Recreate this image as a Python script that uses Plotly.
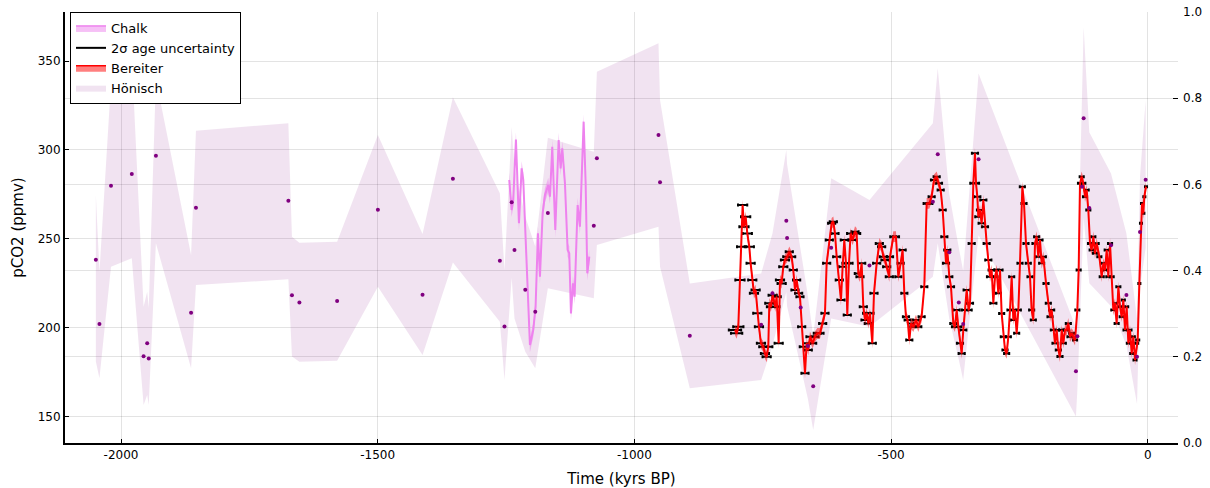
import plotly.graph_objects as go

# ---------------- data ----------------
honisch_age = [-2049, -2042, -2019.5, -1979, -1956, -1949, -1946, -1932, -1863.5, -1854,
               -1674, -1667, -1652.5, -1579, -1499.6, -1412.6, -1353.5, -1262, -1253, -1239,
               -1233.5, -1212.5, -1193, -1168.5, -1079, -1073, -953, -950, -892, -753,
               -731, -704, -702.5, -676, -662, -651.6, -616.6, -542, -418.5, -409,
               -386.5, -368, -359.5, -329.5, -139.8, -137, -128, -124.8, -113.8, -71.5,
               -41.5, -20.8, -15, -4]
honisch_co2 = [238.2, 202.0, 279.8, 286.4, 183.9, 191.2, 182.7, 296.7, 208.4, 267.5,
               271.4, 218.2, 214.2, 215.0, 266.4, 218.5, 283.8, 237.6, 200.7, 270.5,
               243.7, 221.3, 209.0, 264.5, 257.4, 295.3, 308.4, 281.8, 195.5, 201.7,
               219.3, 260.2, 250.4, 211.4, 189.7, 167.0, 245.0, 234.9, 270.9, 297.5,
               242.4, 214.2, 202.0, 294.7, 175.4, 195.1, 279.3, 317.8, 267.3, 246.3,
               218.4, 183.6, 253.8, 283.2]
honisch_lo = [181.0, 171.5, 234.3, 239.0, 156.5, 162.1, 156.5, 247.5, 177.1, 224.0,
              227.2, 183.7, 180.8, 181.4, 223.0, 184.6, 236.7, 203.3, 170.5, 228.0,
              205.2, 186.5, 177.1, 222.1, 216.5, 246.5, 256.8, 234.3, 165.9, 170.5,
              190.0, 220.0, 212.0, 178.0, 160.0, 142.4, 205.2, 200.5, 228.7, 247.5,
              205.0, 182.0, 170.5, 252.0, 150.0, 165.0, 238.0, 262.0, 225.0, 212.0,
              190.0, 157.0, 222.0, 245.0]
honisch_hi = [274.6, 231.5, 338.0, 352.0, 211.8, 220.2, 211.2, 340.0, 240.9, 310.8,
              315.0, 251.2, 247.8, 248.4, 308.4, 252.7, 329.6, 275.6, 232.4, 313.0,
              290.0, 262.4, 245.6, 306.9, 299.0, 344.0, 360.0, 328.1, 224.9, 230.5,
              253.0, 300.0, 292.0, 245.0, 218.0, 195.0, 284.0, 271.8, 315.0, 346.0,
              275.0, 245.0, 232.0, 343.0, 200.0, 222.0, 328.0, 369.0, 310.0, 286.8,
              253.0, 205.0, 285.0, 328.0]

chalk_age = [-1243.7, -1239.1, -1235.9, -1230.7, -1224.8, -1219.6, -1216.4, -1209.9, -1203.4, -1196.9,
             -1192.4, -1187.8, -1183.9, -1178.7, -1174.2, -1167.7, -1164.4, -1159.9, -1154.0, -1147.5,
             -1143.6, -1140.4, -1135.2, -1130.0, -1126.8, -1123.5, -1119.6, -1116.4, -1110.5, -1106.0,
             -1098.8, -1094.9, -1091.7, -1087.8]
chalk_co2 = [283.1, 266.2, 271.8, 305.9, 258.7, 289.6, 283.1, 238.1, 190.2, 198.7,
             211.8, 253.1, 228.7, 264.3, 274.6, 280.2, 273.7, 301.8, 254.9, 305.6,
             289.6, 300.9, 281.2, 243.7, 241.8, 208.0, 224.9, 217.4, 269.0, 256.8,
             315.9, 281.2, 230.6, 239.9]
chalk_sigma = 4.0

bereiter_age = [
    -804.0, -800.8, -797.5, -794.3, -791.0, -789.1, -786.5, -783.2, -780.0, -776.1,
    -773.5, -770.3, -767.0, -763.8, -760.5, -757.3, -753.4, -748.8, -745.6, -742.3,
    -739.1, -737.1, -733.9, -730.6, -725.4, -722.8, -718.9, -716.3, -713.1, -709.9,
    -706.6, -702.1, -698.2, -693.6, -690.4, -687.1, -683.9, -680.0, -677.4, -674.1,
    -670.9, -667.6, -664.4, -661.2, -657.9, -652.7, -648.2, -643.6, -638.4, -633.2,
    -628.7, -625.4, -620.2, -615.7, -612.4, -609.2, -605.9, -600.8, -597.5, -594.3,
    -591.0, -587.8, -585.2, -581.9, -578.7, -574.8, -570.2, -567.0, -563.7, -560.5,
    -557.2, -554.0, -550.7, -547.5, -544.3, -541.0, -536.5, -533.2, -528.0, -522.8,
    -518.3, -515.0, -511.8, -508.5, -503.3,
    -502.0, -495.6, -490.4, -485.8, -481.3, -477.4, -474.1, -470.9, -467.6, -464.4,
    -461.1, -456.6, -451.4, -446.9, -440.4, -435.2, -430.6, -425.4, -420.9, -416.3,
    -411.1, -406.6, -403.3, -399.4, -396.2, -392.9, -390.4, -386.5, -383.2, -378.7,
    -375.4, -372.2, -368.9, -365.7, -362.4, -359.2, -355.9, -352.7, -348.8, -346.2,
    -342.9, -339.7, -336.5, -334.5, -331.9, -330.0, -326.7, -323.5, -320.2, -317.0,
    -313.7, -310.5, -307.2, -304.0, -300.7, -297.5, -294.2, -291.0, -287.7, -284.5,
    -281.3, -278.0, -274.8, -271.5, -268.3, -265.0, -261.8, -258.5, -255.3, -252.0,
    -248.8, -244.2, -241.0, -237.1, -232.6, -229.3, -226.1, -222.8, -219.6, -216.4,
    -213.1, -209.8, -206.6, -203.3, -198.1, -193.6, -190.3, -187.1, -183.8, -180.6,
    -177.3, -174.1, -170.9, -167.6, -164.4, -161.1, -157.9, -154.6, -151.4, -148.1,
    -141.6, -137.1, -134.5, -131.9, -128.6, -125.4, -122.1, -118.9, -115.7, -112.4,
    -109.2, -105.9, -102.7, -99.4, -94.2, -89.6, -86.4, -83.2, -79.9, -76.7,
    -73.4, -70.2, -67.0, -63.7, -60.5, -57.2, -54.0, -50.7, -47.5, -44.2,
    -41.0, -37.7, -34.5, -31.2, -28.0, -24.7, -21.5, -19.5, -16.3, -13.1,
    -11.1, -8.5, -6.6, -3.3]
bereiter_co2 = [
    198.7, 196.8, 200.5, 226.8, 245.5, 269.0, 256.8, 262.4, 253.0, 245.5,
    236.2, 226.8, 219.3, 221.2, 208.1, 200.5, 191.2, 189.3, 185.5, 183.6,
    189.3, 213.7, 211.8, 218.3, 211.8, 217.4, 191.2, 226.8, 224.9, 234.3,
    238.1, 239.9, 242.7, 239.9, 232.4, 221.2, 226.8, 219.3, 217.4, 200.5,
    189.3, 174.3, 191.2, 187.4, 194.9, 191.2, 194.9, 196.8, 196.8, 202.4,
    208.1, 236.2, 249.3, 258.7, 259.6, 253.0, 239.9, 226.8, 215.5, 234.3,
    249.3, 236.2, 207.1, 236.2, 253.0, 249.3, 254.0, 253.0, 230.5, 228.7,
    236.2, 211.8, 204.3, 208.1, 202.4, 208.1, 191.2, 219.3, 236.2, 247.4,
    245.5, 239.9, 238.1, 234.3, 228.7,
    239.9, 251.2, 251.2, 228.7, 236.2, 243.7, 219.3, 206.2, 204.3, 193.0,
    202.4, 200.5, 204.3, 200.5, 206.2, 223.0, 269.9, 269.9, 273.7, 283.1,
    284.9, 281.2, 277.4, 266.2, 251.2, 236.2, 243.7, 228.7, 223.0, 202.4,
    200.5, 209.9, 200.5, 191.2, 185.5, 198.7, 209.9, 221.2, 209.9, 213.7,
    247.4, 281.2, 298.1, 281.2, 273.7, 262.4, 266.2, 258.7, 271.8, 256.8,
    247.4, 238.1, 228.7, 232.4, 213.7, 228.7, 232.4, 219.3, 232.4, 208.0,
    194.9, 187.4, 185.5, 194.9, 209.9, 228.7, 204.3, 209.9, 196.8, 209.9,
    236.2, 279.3, 269.9, 247.4, 236.2, 228.7, 209.9, 204.3, 247.4, 251.2,
    239.9, 249.3, 236.2, 239.9, 224.9, 213.7, 206.2, 209.9, 198.7, 191.2,
    198.7, 187.4, 183.7, 198.7, 191.2, 198.7, 198.7, 202.4, 194.9, 196.8,
    193.0, 209.9, 232.4, 281.2, 284.9, 281.2, 273.7, 277.4, 266.2, 247.4,
    243.7, 251.2, 241.8, 247.4, 239.9, 228.7, 236.2, 232.4, 243.7, 228.7,
    247.4, 228.7, 209.9, 213.7, 202.4, 223.0, 211.8, 206.2, 215.5, 198.7,
    211.8, 191.2, 198.7, 185.5, 194.9, 181.8, 191.2, 193.0, 224.9, 258.7,
    269.9, 264.3, 273.7, 279.3]
bereiter_age_err = [
    12, 11, 10, 9, 9, 9, 9, 9, 9, 9,
    8, 8, 8, 8, 8, 8, 8, 8, 8, 8,
    8, 8, 8, 8, 8, 8, 8, 8, 8, 8,
    8, 8, 7, 7, 7, 7, 7, 7, 7, 7,
    7, 7, 7, 7, 7, 7, 7, 7, 7, 7,
    7, 7, 7, 7, 7, 7, 7, 7, 7, 7,
    7, 7, 7, 7, 7, 7, 7, 7, 7, 7,
    7, 7, 7, 7, 7, 7, 7, 7, 7, 7,
    7, 7, 7, 7, 7,
    6, 6, 6, 6, 6, 6, 6, 6, 6, 6,
    6, 6, 6, 6, 6, 6, 6, 6, 6, 6,
    6, 6, 6, 6, 6, 6, 6, 6, 6, 6,
    6, 6, 6, 6, 6, 6, 6, 6, 6, 6,
    6, 6, 6, 6, 6, 6, 6, 6, 6, 6,
    6, 6, 6, 6, 6, 5, 5, 5, 5, 5,
    5, 5, 5, 5, 5, 5, 5, 5, 5, 5,
    5, 5, 5, 5, 5, 5, 5, 5, 5, 5,
    5, 5, 5, 5, 5, 5, 5, 5, 5, 5,
    5, 5, 5, 5, 5, 5, 5, 5, 5, 5,
    4, 4, 4, 4, 4, 4, 4, 4, 4, 4,
    4, 4, 4, 4, 4, 4, 4, 4, 4, 4,
    4, 4, 4, 4, 4, 4, 4, 4, 3, 3,
    3, 3, 3, 3, 3, 3, 3, 3, 2, 2,
    2, 2, 2, 2]
bereiter_co2_sigma = 3.0

x_ticks = [-2000, -1500, -1000, -500, 0]
x_tick_labels = ["-2000", "-1500", "-1000", "-500", "0"]
y_ticks = [150, 200, 250, 300, 350]
y2_ticks = [0.0, 0.2, 0.4, 0.6, 0.8, 1.0]
y2_tick_labels = ["0.0", "0.2", "0.4", "0.6", "0.8", "1.0"]

assert len(bereiter_age) == len(bereiter_co2) == len(bereiter_age_err)
assert len(chalk_age) == len(chalk_co2)

# ---------------- styles ----------------
HON_FILL = "rgba(128,0,128,0.11)"
HON_DOT = "#800080"
CHALK = "#EE82EE"
CHALK_FILL = "rgba(238,130,238,0.5)"
BER = "#FF0000"
BER_FILL = "rgba(255,0,0,0.5)"
GRID = "rgba(0,0,0,0.11)"
FONT = "DejaVu Sans"

fig = go.Figure()

# Hönisch band
fig.add_trace(go.Scatter(x=honisch_age, y=honisch_lo, mode="lines", line=dict(width=0),
                         showlegend=False, hoverinfo="skip"))
fig.add_trace(go.Scatter(x=honisch_age, y=honisch_hi, mode="lines", line=dict(width=0),
                         fill="tonexty", fillcolor=HON_FILL, name="Hönisch", legendrank=4))

# Chalk band + line
fig.add_trace(go.Scatter(x=chalk_age, y=[v - chalk_sigma for v in chalk_co2], mode="lines",
                         line=dict(width=0), showlegend=False, hoverinfo="skip"))
fig.add_trace(go.Scatter(x=chalk_age, y=[v + chalk_sigma for v in chalk_co2], mode="lines",
                         line=dict(width=0), fill="tonexty", fillcolor=CHALK_FILL,
                         showlegend=False, hoverinfo="skip"))
fig.add_trace(go.Scatter(x=chalk_age, y=chalk_co2, mode="lines", line=dict(color=CHALK, width=2),
                         showlegend=False))
fig.add_trace(go.Scatter(x=[None], y=[None], mode="lines", fill="toself", fillcolor=CHALK_FILL,
                         line=dict(color=CHALK, width=1.5), name="Chalk", legendrank=1))

# Bereiter age error bars
fig.add_trace(go.Scatter(x=bereiter_age, y=bereiter_co2, mode="markers",
                         marker=dict(size=1, color="black"),
                         error_x=dict(type="data", array=bereiter_age_err, color="black",
                                      thickness=2, width=1.5),
                         showlegend=False))
fig.add_trace(go.Scatter(x=[None], y=[None], mode="lines", line=dict(color="black", width=2),
                         name="2σ age uncertainty", legendrank=2))

# Bereiter band + line
fig.add_trace(go.Scatter(x=bereiter_age, y=[v - bereiter_co2_sigma for v in bereiter_co2],
                         mode="lines", line=dict(width=0), showlegend=False, hoverinfo="skip"))
fig.add_trace(go.Scatter(x=bereiter_age, y=[v + bereiter_co2_sigma for v in bereiter_co2],
                         mode="lines", line=dict(width=0), fill="tonexty", fillcolor=BER_FILL,
                         showlegend=False, hoverinfo="skip"))
fig.add_trace(go.Scatter(x=bereiter_age, y=bereiter_co2, mode="lines",
                         line=dict(color=BER, width=2), showlegend=False))
fig.add_trace(go.Scatter(x=[None], y=[None], mode="lines", fill="toself", fillcolor=BER_FILL,
                         line=dict(color=BER, width=1.5), name="Bereiter", legendrank=3))

# Hönisch central values
fig.add_trace(go.Scatter(x=honisch_age, y=honisch_co2, mode="markers",
                         marker=dict(size=4, color=HON_DOT), showlegend=False))

# empty secondary axis
fig.add_trace(go.Scatter(x=[None], y=[None], yaxis="y2", showlegend=False, hoverinfo="skip"))

fig.update_layout(
    width=1210, height=488,
    margin=dict(l=65, r=32, t=12, b=45),
    paper_bgcolor="white", plot_bgcolor="white",
    font=dict(family=FONT, size=12, color="black"),
    legend=dict(x=0.0045, y=1.0, xanchor="left", yanchor="top", bgcolor="white",
                bordercolor="black", borderwidth=1, font=dict(size=13, family=FONT),
                itemwidth=30, traceorder="normal"),
    xaxis=dict(range=[-2109.1, 59.0], tickvals=x_ticks, ticktext=x_tick_labels,
               ticks="inside", ticklen=4, tickwidth=1, tickcolor="black",
               showline=True, linewidth=2, linecolor="black", mirror=False,
               showgrid=True, gridcolor=GRID, gridwidth=1, zeroline=False,
               title=dict(text="Time (kyrs BP)", font=dict(size=15), standoff=12),
               automargin=False),
    yaxis=dict(range=[135.1, 377.6], tickvals=y_ticks,
               ticks="inside", ticklen=4, tickwidth=1, tickcolor="black",
               showline=True, linewidth=2, linecolor="black", mirror=False,
               showgrid=True, gridcolor=GRID, gridwidth=1, zeroline=False,
               title=dict(text="pCO2 (ppmv)", font=dict(size=15), standoff=10),
               automargin=False),
    yaxis2=dict(overlaying="y", side="right", range=[0, 1], tickvals=y2_ticks,
                ticktext=y2_tick_labels, ticks="inside", ticklen=5, tickwidth=1,
                tickcolor="black", showline=False, showgrid=True, gridcolor=GRID,
                gridwidth=1, zeroline=False, automargin=False, ticklabelstandoff=4),
)

fig.write_html("out.html")
